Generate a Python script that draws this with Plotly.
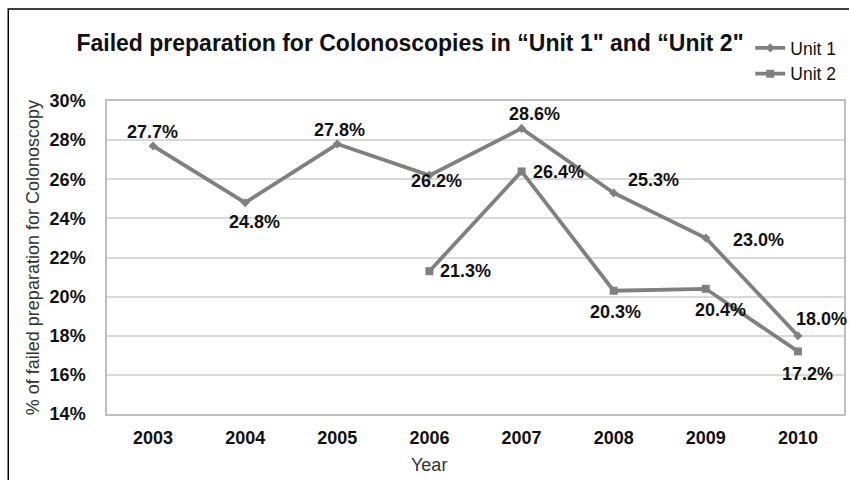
import plotly.graph_objects as go

years = ["2003", "2004", "2005", "2006", "2007", "2008", "2009", "2010"]
unit1 = [27.7, 24.8, 27.8, 26.2, 28.6, 25.3, 23.0, 18.0]
unit2 = [None, None, None, 21.3, 26.4, 20.3, 20.4, 17.2]
y_ticks = [14, 16, 18, 20, 22, 24, 26, 28, 30]
y_tick_labels = [f"{v}%" for v in y_ticks]

# label offsets in pixels (dx, dy down)
off1 = [(-1, -14), (9, 19), (2, -14), (7, 6), (13, -14), (40, -13), (53, 2), (24, -17)]
off2 = [None, None, None, (36, 0), (37, 1), (2, 21), (15, 21), (10, 23)]

GRAY = "#808080"
FONT = "Liberation Sans, Arial, sans-serif"
L, R, T, B = 107, 846, 101, 414

fig = go.Figure()
fig.add_trace(go.Scatter(x=years, y=unit1, name="Unit 1", mode="lines+markers",
                         line=dict(color=GRAY, width=3.8),
                         marker=dict(symbol="diamond", size=7, color=GRAY)))
fig.add_trace(go.Scatter(x=years, y=unit2, name="Unit 2", mode="lines+markers",
                         line=dict(color=GRAY, width=3.8),
                         marker=dict(symbol="square", size=8, color=GRAY)))

anns = []
for series, offs in ((unit1, off1), (unit2, off2)):
    for i, (v, o) in enumerate(zip(series, offs)):
        if v is None:
            continue
        anns.append(dict(x=i, y=v, xref="x", yref="y", text=f"<b>{v:.1f}%</b>",
                         showarrow=False, xshift=o[0], yshift=-o[1],
                         font=dict(family=FONT, size=18, color="#111"),
                         xanchor="center", yanchor="middle"))


def px_ann(text, px, py, **kw):
    return dict(text=text, xref="paper", yref="paper",
                x=(px - L) / (R - L), y=(B - py) / (B - T),
                xanchor="center", yanchor="middle", showarrow=False,
                font=dict(family=FONT, size=18, color="#333"), **kw)


anns.append(px_ann("% of failed preparation for Colonoscopy", 33, 258, textangle=-90))
anns.append(px_ann("Year", 430, 465))

fig.update_layout(
    width=849, height=480,
    margin=dict(l=L, r=849 - R, t=T, b=480 - B),
    paper_bgcolor="white", plot_bgcolor="white",
    font=dict(family=FONT, color="#111"),
    title=dict(text="<b>Failed preparation for Colonoscopies in “Unit 1\" and “Unit 2\"</b>",
               x=410 / 849, xanchor="center", y=1 - 43 / 480, yanchor="middle",
               font=dict(family=FONT, size=23, color="#111")),
    showlegend=True,
    legend=dict(x=(752 - L) / (R - L), y=(B - 30) / (B - T), xanchor="left", yanchor="top",
                font=dict(family=FONT, size=17.5, color="#111"), bgcolor="rgba(0,0,0,0)",
                tracegroupgap=0),
    xaxis=dict(type="category", range=[-0.5, 7.5], showgrid=False,
               showline=True, linecolor="#bfbfbf", linewidth=1.5, mirror=True,
               ticks="", tickfont=dict(family=FONT, size=18, color="#111", weight="bold"),
               ticklabelstandoff=7),
    yaxis=dict(range=[14, 30], tickvals=y_ticks, ticktext=y_tick_labels,
               showgrid=True, gridcolor="#d9d9d9", gridwidth=1.5,
               showline=True, linecolor="#bfbfbf", linewidth=1.5, mirror=True,
               ticks="", zeroline=False,
               tickfont=dict(family=FONT, size=18, color="#111", weight="bold"),
               ticklabelstandoff=16),
    annotations=anns,
    shapes=[dict(type="rect", xref="paper", yref="paper",
                 x0=(8 - L) / (R - L), x1=(870 - L) / (R - L),
                 y0=(B - 500) / (B - T), y1=(B - 9) / (B - T),
                 line=dict(color="black", width=1.5), layer="above")],
)

fig.write_html("out.html")
